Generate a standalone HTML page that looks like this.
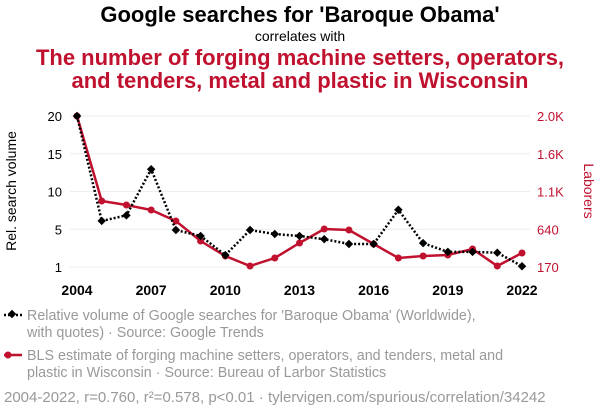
<!DOCTYPE html>
<html><head><meta charset="utf-8">
<style>
body{margin:0;background:#fff;font-family:"Liberation Sans",sans-serif;}
svg text{font-family:"Liberation Sans",sans-serif;}
</style></head>
<body>
<svg id="chart" width="600" height="414" viewBox="0 0 600 414">
<text x="300" y="22" text-anchor="middle" font-size="22" font-weight="bold" fill="#000">Google searches for 'Baroque Obama'</text>
<text x="300" y="41" text-anchor="middle" font-size="14" fill="#000">correlates with</text>
<text x="300" y="65" text-anchor="middle" font-size="22" font-weight="bold" fill="#c0112f">The number of forging machine setters, operators,</text>
<text x="300" y="88" text-anchor="middle" font-size="22" font-weight="bold" fill="#c0112f">and tenders, metal and plastic in Wisconsin</text>
<g id="grid"></g>
<g id="axes"></g>
<text transform="translate(16,191) rotate(-90)" text-anchor="middle" font-size="14" fill="#000">Rel. search volume</text>
<text transform="translate(584,191) rotate(90)" text-anchor="middle" font-size="14" fill="#c0112f">Laborers</text>
<g id="series"></g>
<g>
<line x1="4" y1="315" x2="22" y2="315" stroke="#000" stroke-width="2.5" stroke-dasharray="2,2"/>
<rect x="9" y="311" width="6" height="6" transform="rotate(45 12 314)" fill="#000"/>
<text x="27" y="320" font-size="14.3" fill="#999">Relative volume of Google searches for 'Baroque Obama' (Worldwide),</text>
<text x="27" y="337" font-size="14.3" fill="#999">with quotes) · Source: Google Trends</text>
</g>
<g>
<line x1="4" y1="355" x2="22" y2="355" stroke="#c0112f" stroke-width="2.5"/>
<circle cx="8" cy="355" r="3.5" fill="#c0112f"/>
<text x="27" y="360" font-size="14.3" fill="#999">BLS estimate of forging machine setters, operators, and tenders, metal and</text>
<text x="27" y="377" font-size="14.3" fill="#999">plastic in Wisconsin · Source: Bureau of Larbor Statistics</text>
</g>
<text x="4" y="402" font-size="15" fill="#999">2004-2022, r=0.760, r²=0.578, p&lt;0.01 · tylervigen.com/spurious/correlation/34242</text>
</svg>
<script>
const years=[2004,2005,2006,2007,2008,2009,2010,2011,2012,2013,2014,2015,2016,2017,2018,2019,2020,2021,2022];
const googleValues=[20,6.8,7.5,13.3,5.65,4.9,2.5,5.65,5.15,4.9,4.5,3.9,3.9,8.2,4.0,2.9,2.9,2.8,1.1];
const laborValues=[2000,970,921,861,727,485,303,182,279,461,630,618,449,279,303,315,388,182,340];
const xTickLabels=[2004,2007,2010,2013,2016,2019,2022];
const leftTicks=[1,5.75,10.5,15.25,20];
const leftTickLabels=["1","5","10","15","20"];
const rightTicks=[170,627.5,1085,1542.5,2000];
const rightTickLabels=["170","640","1.1K","1.6K","2.0K"];
const NS="http://www.w3.org/2000/svg";
const X=y=>77+(y-2004)*(522-77)/18;
const YL=v=>267-(v-1)*(151/19);
const YR=v=>267-(v-170)*(151/1830);
function mk(tag,attrs,parent){const e=document.createElementNS(NS,tag);for(const k in attrs)e.setAttribute(k,attrs[k]);parent.appendChild(e);return e;}
const grid=document.getElementById('grid'),axes=document.getElementById('axes'),series=document.getElementById('series');
leftTicks.forEach((t,i)=>{
 const l=mk('line',{x1:70,x2:530,y1:YL(t),y2:YL(t),stroke:'#eee','stroke-width':1},grid);
 
 
 const tx=mk('text',{x:62,y:YL(t)+5,'text-anchor':'end','font-size':13,fill:'#000'},axes);
 tx.textContent=leftTickLabels[i];
 
 
});
rightTicks.forEach((t,i)=>{
 const tx=mk('text',{x:537,y:YR(t)+5,'font-size':13,fill:'#c0112f'},axes);
 tx.textContent=rightTickLabels[i];
 
 
});
xTickLabels.forEach(y=>{
 const tx=mk('text',{x:X(y),y:295,'text-anchor':'middle','font-size':14,'font-weight':'bold',fill:'#000'},axes);
 tx.textContent=y;
 
 
});
const rp=mk('polyline',{points:years.map((y,i)=>X(y)+','+YR(laborValues[i])).join(' '),fill:'none',stroke:'#c0112f','stroke-width':2.5},series);


years.forEach((y,i)=>{
 const c=mk('circle',{cx:X(y),cy:YR(laborValues[i]),r:3.5,fill:'#c0112f'},series);
 
 
});
const gp=mk('polyline',{points:years.map((y,i)=>X(y)+','+YL(googleValues[i])).join(' '),fill:'none',stroke:'#000','stroke-width':2.5,'stroke-dasharray':'2,2'},series);


years.forEach((y,i)=>{
 const cx=X(y),cy=YL(googleValues[i]);
 const r=mk('rect',{x:cx-3,y:cy-3,width:6,height:6,fill:'#000',transform:`rotate(45 ${cx} ${cy})`},series);
 
 
});
</script>
</body></html>
